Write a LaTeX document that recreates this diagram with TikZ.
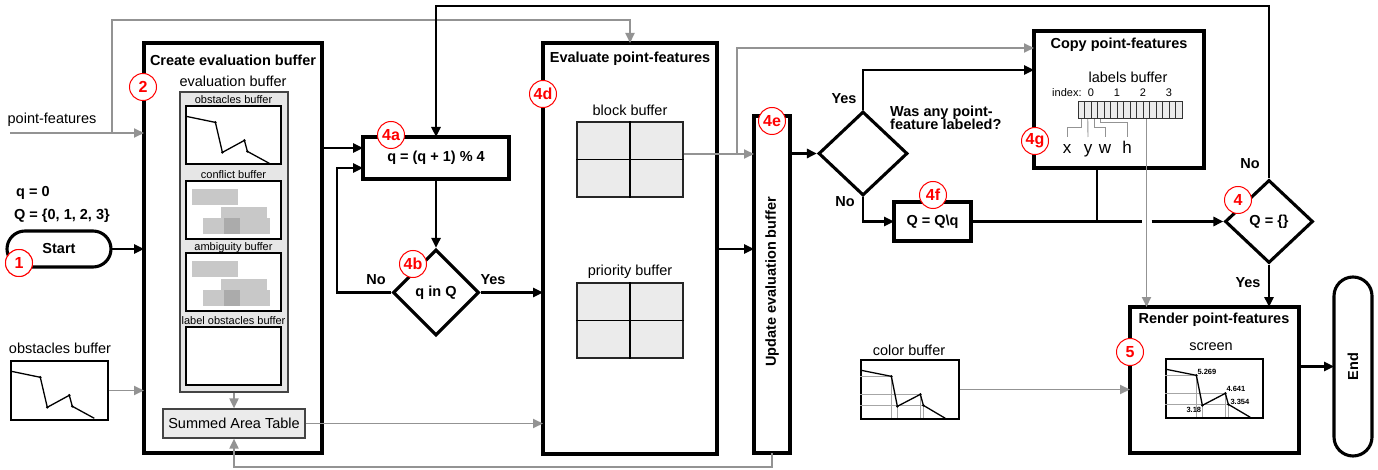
\documentclass[tikz,border=0pt]{standalone}
\usepackage{fontspec}
\setmainfont{Liberation Sans}
\usetikzlibrary{arrows.meta,shapes.geometric,calc}
\newcommand{\myfs}[1]{\fontsize{#1}{#1}\selectfont}
\definecolor{glinec}{HTML}{939393}
\definecolor{panelc}{HTML}{E6E6E6}
\definecolor{cellc}{HTML}{EBEBEB}
\definecolor{rectc}{HTML}{C8C8C8}
\definecolor{rectd}{HTML}{ABABAB}
\definecolor{edgec}{HTML}{444444}
\tikzset{
 bbox/.style={draw, line width=3.1pt, inner sep=0pt, outer sep=0pt},
 barrow/.style={line width=2.8pt, -{Triangle[length=10pt,width=9pt]}},
 bline/.style={line width=2.8pt},
 garrow/.style={draw=glinec, line width=1.9pt, -{Triangle[length=10pt,width=9pt]}},
 gline/.style={draw=glinec, line width=1.9pt},
 thing/.style={draw=glinec, line width=0.9pt},
 numc/.style={circle, draw=red, fill=white, line width=1pt, minimum size=27pt, inner sep=0pt, text=red, font=\bfseries\myfs{16}},
 ttl/.style={font=\bfseries\myfs{14.5}, inner sep=0pt},
 lbl/.style={font=\myfs{14.5}, inner sep=0pt},
 sml/.style={font=\myfs{11}, inner sep=0pt},
 tiny/.style={font=\bfseries\myfs{7.5}, inner sep=0pt},
 panel/.style={draw=edgec, fill=panelc, line width=1.2pt, inner sep=0pt},
 wbox/.style={draw, fill=white, line width=1.2pt, inner sep=0pt, minimum width=95pt, minimum height=58pt},
 gridbox/.style={draw=black!85, fill=cellc, line width=1.2pt, inner sep=0pt, minimum width=106pt, minimum height=75pt},
 dia/.style={diamond, draw, line width=3.1pt, inner sep=0pt, aspect=1, font=\bfseries\myfs{14.5}},
 xywh/.style={font=\myfs{17}, inner sep=0pt, anchor=base},
 obsfig/.pic={
  \draw[line width=1.3pt] (1,11) -- (30,17) -- (37,47) -- (59,35) -- (62,46) -- (84,58);
  \foreach \p in {(30,17),(37,47),(59,35),(62,46)} \fill \p circle (1.4pt);
 },
 colfig/.pic={
  \draw[black!35, line width=1.3pt] (0,17) -- (31,17) (0,35) -- (60,35) (0,46) -- (63,46)
    (31,17) -- (31,59) (37,46) -- (37,59) (60,35) -- (60,59) (63,46) -- (63,59);
  \draw[line width=1.3pt] (1,11) -- (31,17) -- (37,47) -- (60,35) -- (63,46) -- (85,59);
  \foreach \p in {(31,17),(37,47),(60,35),(63,46)} \fill \p circle (1.4pt);
 },
 rectfig/.pic={
  \fill[rectc] (7,9) rectangle (53,25);
  \fill[rectc] (36,27) rectangle (82,43);
  \fill[rectc] (18,38) rectangle (85,54);
  \fill[rectd] (39,38) rectangle (55,54);
 }
}
\begin{document}
\begin{tikzpicture}[x=1pt,y=-1pt]
\useasboundingbox (0,0) rectangle (1378,470);

% ---------- left column ----------
\node[lbl] (pft) at (52,120) {point-features};
\node[ttl, anchor=west] (qzero) at (16,193) {q = 0};
\node[ttl, anchor=west] (Qset) at (14,216) {Q = \{0, 1, 2, 3\}};
\node[bbox, rounded corners=18pt, minimum width=104pt, minimum height=36pt, font=\bfseries\myfs{14.5}] (startn) at (59,249) {Start};
\node[numc] (n1) at (19,263) {1};
\node[lbl] (obslt) at (60,348) {obstacles buffer};
\node[draw, line width=1.4pt, inner sep=0pt, minimum width=97pt, minimum height=59pt] (obsl) at (59.5,390.5) {};
\pic at (obsl.north west) {obsfig};

% ---------- create evaluation buffer ----------
\node[bbox, minimum width=178pt, minimum height=410pt] (create) at (233,248) {};
\node[ttl] (createt) at (233,60) {Create evaluation buffer};
\node[numc] (n2) at (143,87) {2};
\node[lbl] (evbt) at (233,81) {evaluation buffer};
\node[panel, minimum width=108pt, minimum height=300pt] (panel) at (234,242) {};
\node[sml] (obst) at (233.5,100) {obstacles buffer};
\node[wbox] (obsa) at (233.5,135) {};
\pic at (obsa.north west) {obsfig};
\node[sml] (conft) at (233.5,175) {conflict buffer};
\node[wbox] (conf) at (233.5,210) {};
\pic at (conf.north west) {rectfig};
\node[sml] (ambt) at (233.5,248) {ambiguity buffer};
\node[wbox] (amb) at (233.5,282) {};
\pic at (amb.north west) {rectfig};
\node[sml] (lobt) at (233.5,321) {label obstacles buffer};
\node[wbox] (lob) at (233.5,356) {};
\node[draw=edgec, fill=cellc, line width=1.2pt, inner sep=0pt, minimum width=142pt, minimum height=29pt, font=\myfs{14.5}] (sat) at (234,423.5) {Summed Area Table};

% ---------- q loop ----------
\node[bbox, minimum width=146pt, minimum height=42pt, font=\bfseries\myfs{14.5}] (qbox) at (436,158) {q = (q + 1) \% 4};
\node[numc] (n4a) at (391,135) {4a};
\node[dia, minimum width=86pt, minimum height=86pt] (qinq) at (436,292.5) {q in Q};
\node[numc] (n4b) at (413,264) {4b};
\node[ttl] (nol1) at (376,280) {No};
\node[ttl] (yesl1) at (493,280) {Yes};

% ---------- evaluate ----------
\node[bbox, minimum width=174pt, minimum height=411pt] (eval) at (630,248.5) {};
\node[ttl] (evalt) at (630,59) {Evaluate point-features};
\node[numc] (n4d) at (543,94) {4d};
\node[lbl] (blockt) at (630,110) {block buffer};
\node[gridbox] (block) at (630,159.5) {};
\draw[line width=1.2pt] (block.north) -- (block.south) (block.west) -- (block.east);
\node[lbl] (prit) at (630,272) {priority buffer};
\node[gridbox] (prio) at (630,320.5) {};
\draw[line width=1.2pt] (prio.north) -- (prio.south) (prio.west) -- (prio.east);

% ---------- update ----------
\node[bbox, minimum width=36pt, minimum height=337pt] (update) at (772,284.5) {};
\node[ttl, rotate=90] (updt) at (772,282) {Update evaluation buffer};
\node[numc] (n4e) at (772,121) {4e};

% ---------- labeled? ----------
\node[dia, minimum width=89pt, minimum height=84pt] (lab) at (863,153.5) {};
\node[ttl, anchor=west, align=left, font=\bfseries\myfs{14.5}] (labt) at (890,118) {Was any point-\\[-1.5pt]feature labeled?};
\node[ttl] (yesl2) at (844,99) {Yes};
\node[ttl] (nol2) at (845,202) {No};
\node[bbox, minimum width=77pt, minimum height=39pt, font=\bfseries\myfs{14.5}] (qq) at (932.5,221.5) {Q = Q\textbackslash q};
\node[numc] (n4f) at (933,195) {4f};

% ---------- copy ----------
\node[bbox, minimum width=170pt, minimum height=137pt] (copy) at (1119,99.5) {};
\node[ttl] (copyt) at (1119,45) {Copy point-features};
\node[numc] (n4g) at (1035,141) {4g};
\node[lbl] (labbt) at (1128,77) {labels buffer};
\node[sml, anchor=west] (idxt) at (1052,93) {index:};
\node[sml] (i0) at (1091,93) {0};
\node[sml] (i1) at (1117,93) {1};
\node[sml] (i2) at (1143,93) {2};
\node[sml] (i3) at (1169,93) {3};
\node[draw=black!80, fill=cellc, line width=1pt, inner sep=0pt, minimum width=104pt, minimum height=17pt, anchor=north west] (strip) at (1078,101) {};
\foreach \i in {1,...,15} \draw[black!80, line width=0.9pt] ($(strip.north west)+(6.5*\i,0)$) -- ($(strip.south west)+(6.5*\i,0)$);
\coordinate (cx) at ($(strip.south west)+(3.25,0)$);
\coordinate (cyy) at ($(strip.south west)+(9.75,0)$);
\coordinate (cw) at ($(strip.south west)+(16.25,0)$);
\coordinate (ch) at ($(strip.south west)+(22.75,0)$);
\node[xywh] (lx) at (1067,154) {x};
\node[xywh] (ly) at (1088,154) {y};
\node[xywh] (lw) at (1105,154) {w};
\node[xywh] (lh) at (1127,154) {h};
\coordinate (lettop) at (0,137);
\draw[thing] (cx) -- ++(0,8) -| (lx |- lettop);
\draw[thing] (cyy) -- (ly |- lettop);
\draw[thing] (cw) -- ++(0,8) -| (lw |- lettop);
\draw[thing] (ch) -- ++(0,3) -| (lh |- lettop);

% ---------- Q = {} ----------
\node[dia, minimum width=88pt, minimum height=83pt] (qe) at (1269,221.5) {Q = \{\}};
\node[numc] (n4) at (1238,200) {4};
\node[ttl] (nol3) at (1250,164) {No};
\node[ttl] (yesl3) at (1248,283) {Yes};

% ---------- render ----------
\node[bbox, minimum width=169pt, minimum height=146pt] (render) at (1214.5,380) {};
\node[ttl] (rendt) at (1214,320) {Render point-features};
\node[numc] (n5) at (1130,352) {5};
\node[lbl] (scrt) at (1211,347) {screen};
\node[draw, line width=1.3pt, inner sep=0pt, minimum width=97pt, minimum height=59pt] (screen) at (1214.5,388.5) {};
\pic at (screen.north west) {colfig};
\node[tiny, anchor=west] (v1) at ($(screen.north west)+(32,14)$) {5.269};
\node[tiny, anchor=west] (v2) at ($(screen.north west)+(61,31)$) {4.641};
\node[tiny, anchor=west] (v3) at ($(screen.north west)+(65,44)$) {3.354};
\node[tiny, anchor=east] (v4) at ($(screen.north west)+(36,52)$) {3.18};
\node[bbox, rounded corners=19pt, minimum width=38pt, minimum height=179pt] (endn) at (1353,366.5) {};
\node[ttl, rotate=90] (endt) at (1353,366.5) {End};

% ---------- color buffer ----------
\node[lbl] (colt) at (909,350) {color buffer};
\node[draw, line width=1.3pt, inner sep=0pt, minimum width=98pt, minimum height=59pt] (colb) at (910,389.5) {};
\pic at (colb.north west) {colfig};

% ================= connectors =================
% gray
\coordinate (pfs) at (10,133);
\coordinate (pfb) at (112,133);
\coordinate (topg) at (0,20);
\draw[garrow] (pfs) -- (pfs -| create.west);
\draw[garrow] (pfb) -- (pfb |- topg) -- (eval.north |- topg) -- (eval.north);
\draw[garrow] (obsl.east) -- (obsl.east -| create.west);
\draw[garrow] (panel.south) -- (sat.north);
\draw[garrow] (sat.east) -- (sat.east -| eval.west);
\coordinate (fbl) at (0,467);
\draw[garrow] (update.south) -- (update.south |- fbl) -| (sat.south);
\coordinate (bo) at ($(block.east)+(0,-5.5)$);
\coordinate (br) at ($(bo)+(53,0)$);
\coordinate (cg) at ($(copy.west)+(0,-51.5)$);
\draw[garrow] (bo) -- (bo -| update.west);
\draw[garrow] (br) |- (cg);
\coordinate (lbv) at ($(strip.south west)+(68.5,0)$);
\draw[garrow] (lbv) -- (lbv |- render.north);
\draw[garrow] (colb.east) -- (colb.east -| render.west);

% black
\draw[barrow] (startn.east) -- (startn.east -| create.west);
\coordinate (qin1) at ($(qbox.west)+(0,-10)$);
\coordinate (qin2) at ($(qbox.west)+(0,10)$);
\coordinate (lpx) at (337,0);
\draw[barrow] (create.east |- qin1) -- (qin1);
\draw[barrow] (qinq.west) -- (qinq.west -| lpx) |- (qin2);
\draw[barrow] (qbox.south) -- (qinq.north);
\draw[barrow] (qinq.east) -- (qinq.east -| eval.west);
\coordinate (topb) at (0,6);
\draw[barrow] (qe.north) -- (qe.north |- topb) -| (qbox.north);
\coordinate (evy) at (0,249);
\draw[barrow] (eval.east |- evy) -- (update.west |- evy);
\draw[barrow] (lab.west -| update.east) -- (lab.west);
\coordinate (cy) at ($(copy.west)+(0,-29.5)$);
\draw[barrow] (lab.north) |- (cy);
\draw[barrow] (lab.south) |- (qq.west);
\coordinate (gapl) at ($(lbv |- qq.east)+(-5,0)$);
\coordinate (gapr) at ($(lbv |- qq.east)+(5,0)$);
\draw[bline] (qq.east) -- (gapl);
\draw[barrow] (gapr) -- (qe.west);
\coordinate (cj) at ($(copy.south)+(-22,0)$);
\draw[bline] (cj) -- (cj |- qq.east);
\draw[barrow] (qe.south) -- (qe.south |- render.north);
\draw[barrow] (endn.west -| render.east) -- (endn.west);

% badge on top of the start terminal
\node[numc] at (n1) {1};
\end{tikzpicture}
\end{document}
